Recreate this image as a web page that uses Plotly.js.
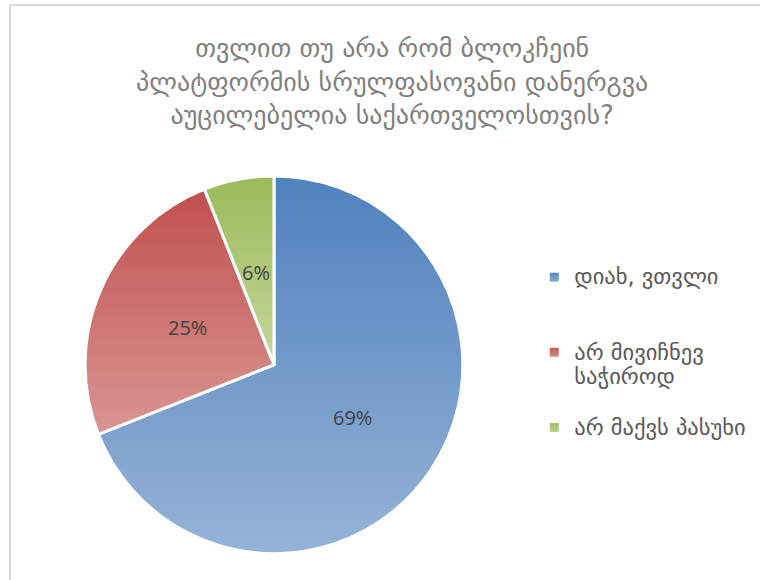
<!DOCTYPE html>
<html>
<head>
<meta charset="utf-8">
<script src="https://cdn.plot.ly/plotly-3.0.1.min.js"></script>
<style>
  html, body { margin: 0; padding: 0; background: #ffffff; }
  #wrap { position: relative; width: 760px; height: 580px; overflow: hidden; }
  #chart { position: absolute; left: 0; top: 0; width: 760px; height: 580px; }
  #frame { position: absolute; left: 9px; top: 4px; width: 900px; height: 800px;
           border-left: 2px solid #d9d9d9; border-top: 2px solid #d9d9d9;
           pointer-events: none; z-index: 5; }
</style>
</head>
<body>
<div id="wrap">
  <div id="chart"></div>
  <div id="frame"></div>
</div>
<script>
// ---- data ----
var chartTitle = "თვლით თუ არა რომ ბლოკჩეინ<br>პლატფორმის სრულფასოვანი დანერგვა<br>აუცილებელია საქართველოსთვის?";
var categories = ["დიახ, ვთვლი", "არ მივიჩნევ საჭიროდ", "არ მაქვს პასუხი"];
var percentValues = [69, 25, 6];
var topColors = ["#4f81bd", "#c0504d", "#9bbb59"];
var bottomColors = ["#95b3d7", "#d99694", "#c3d69b"];
var midColors = ["#7298c9", "#cc7371", "#afc87a"];

// legend text: wrap long names, pad each entry to equal height
var legendLabels = categories.map(function (c, i) {
  var lines = c.length > 16 ? [c.slice(0, c.lastIndexOf(" ")), c.slice(c.lastIndexOf(" ") + 1)] : [c];
  var styled = lines.map(function (l) { return '<span style="font-size:22.5px">' + l + '</span>'; });
  if (i < categories.length - 1) {
    while (styled.length < 3) styled.push("\u00a0");
  }
  return styled.join("<br>");
});

var pieDomain = { x: [0.112, 0.609], y: [0.045, 0.697] };
var W = 760, H = 580;

// data labels at half radius on each slice's bisector (as in the original)
var total = percentValues.reduce(function (a, b) { return a + b; }, 0);
var cx = (pieDomain.x[0] + pieDomain.x[1]) / 2;
var cy = (pieDomain.y[0] + pieDomain.y[1]) / 2;
var rPx = Math.min((pieDomain.x[1] - pieDomain.x[0]) * W, (pieDomain.y[1] - pieDomain.y[0]) * H) / 2;
var cum = 0;
var labelAnnotations = percentValues.map(function (v) {
  var mid = (cum + v / 2) / total * 2 * Math.PI;
  cum += v;
  return {
    xref: "paper", yref: "paper",
    x: cx + 0.5 * rPx * Math.sin(mid) / W,
    y: cy + 0.5 * rPx * Math.cos(mid) / H,
    xanchor: "center", yanchor: "middle",
    text: v + "%",
    showarrow: false,
    font: { family: "Open Sans, Lato, sans-serif", size: 20, color: "#404040" }
  };
});

var trace = {
  type: "pie",
  labels: legendLabels,
  values: percentValues,
  sort: false,
  direction: "clockwise",
  rotation: 0,
  textinfo: "none",
  marker: { colors: midColors, line: { color: "#ffffff", width: 3 } },
  domain: pieDomain,
  hoverinfo: "none"
};

var layout = {
  width: W,
  height: H,
  margin: { l: 0, r: 0, t: 0, b: 0 },
  paper_bgcolor: "#ffffff",
  title: {
    text: chartTitle,
    x: 0.516, xref: "container", xanchor: "center",
    y: 0.902, yref: "container", yanchor: "top",
    font: { family: "DejaVu Sans, Noto Sans, sans-serif", size: 26, color: "#808080" }
  },
  showlegend: true,
  legend: {
    x: 0.703, xanchor: "left",
    y: 0.554, yanchor: "top",
    valign: "top",
    font: { family: "DejaVu Sans, Noto Sans, sans-serif", size: 18.5, color: "#595959" },
    bgcolor: "rgba(0,0,0,0)"
  },
  annotations: labelAnnotations
};

Plotly.newPlot("chart", [trace], layout, { displayModeBar: false, staticPlot: true }).then(function (gd) {
  // apply vertical gradient fills (dark top -> light bottom) per slice, like the original
  var svg = gd.querySelector("svg.main-svg");
  var ns = "http://www.w3.org/2000/svg";
  var defs = svg.querySelector("defs") || svg.insertBefore(document.createElementNS(ns, "defs"), svg.firstChild);
  topColors.forEach(function (c, i) {
    var g = document.createElementNS(ns, "linearGradient");
    g.setAttribute("id", "sliceGrad" + i);
    g.setAttribute("x1", "0"); g.setAttribute("y1", "0");
    g.setAttribute("x2", "0"); g.setAttribute("y2", "1");
    var s1 = document.createElementNS(ns, "stop");
    s1.setAttribute("offset", "0"); s1.setAttribute("stop-color", c);
    var s2 = document.createElementNS(ns, "stop");
    s2.setAttribute("offset", "1"); s2.setAttribute("stop-color", bottomColors[i]);
    g.appendChild(s1); g.appendChild(s2);
    defs.appendChild(g);
  });
  var slices = gd.querySelectorAll("g.slice path.surface");
  slices.forEach(function (p, i) { p.style.fill = "url(#sliceGrad" + (i % 3) + ")"; });
  var legs = gd.querySelectorAll("path.legendpie");
  legs.forEach(function (p, i) { p.style.fill = "url(#sliceGrad" + (i % 3) + ")"; });
});
</script>
</body>
</html>
